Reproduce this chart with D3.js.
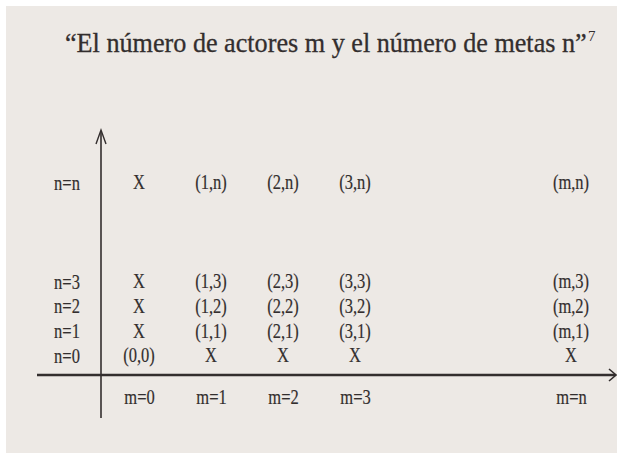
<!DOCTYPE html>
<html><head><meta charset="utf-8">
<script src="https://cdn.jsdelivr.net/npm/d3@7"></script>
<style>body{margin:0;background:#fff;overflow:hidden}</style></head>
<body><svg id="c" width="617" height="453"></svg>
<script>
const titleText = "\u201CEl número de actores m y el número de metas n\u201D";
const titleNote = "7";
const columnLabels = ["m=0", "m=1", "m=2", "m=3", "m=n"];
const columnSteps = [0, 1, 2, 3, 6];
const rowLabels = ["n=0", "n=1", "n=2", "n=3", "n=n"];
const rowSteps = [0, 1, 2, 3, 7];
const row0 = ["(0,0)", "X", "X", "X", "X"];
const row1 = ["X", "(1,1)", "(2,1)", "(3,1)", "(m,1)"];
const row2 = ["X", "(1,2)", "(2,2)", "(3,2)", "(m,2)"];
const row3 = ["X", "(1,3)", "(2,3)", "(3,3)", "(m,3)"];
const rowN = ["X", "(1,n)", "(2,n)", "(3,n)", "(m,n)"];
const cellRows = [row0, row1, row2, row3, rowN];

const svg = d3.select("#c");
const ink = "#332e2e";
const font = "'Liberation Serif', 'Times New Roman', serif";
const fs = 22, sx = 0.75;

svg.append("rect").attr("x", 6).attr("y", 6).attr("width", 611).attr("height", 447).attr("fill", "#ede9e5");

// title
const tg = svg.append("g");
const t = tg.append("text").attr("font-family", font).attr("font-size", 27).attr("fill", ink)
  .attr("stroke", ink).attr("stroke-width", 0.3).text(titleText);
const w = t.node().getComputedTextLength();
const k = 522 / w;
t.attr("transform", `translate(65,52) scale(${k},1)`);
tg.append("text").attr("font-family", font).attr("font-size", 15).attr("fill", ink)
  .attr("x", 588).attr("y", 41).text(titleNote);

const x = d3.scaleLinear().domain([0, 6]).range([139, 571]);
const y = d3.scaleLinear().domain([0, 7]).range([355, 182]);
const axisX = 101, axisY = 375;

// axes lines
svg.append("line").attr("x1", axisX).attr("x2", axisX).attr("y1", 418).attr("y2", 131)
  .attr("stroke", ink).attr("stroke-width", 1.6);
svg.append("path").attr("d", `M${axisX-5},${144}L${axisX},${130}L${axisX+5},${144}`)
  .attr("fill", "none").attr("stroke", ink).attr("stroke-width", 1.4);
svg.append("line").attr("x1", 37).attr("x2", 615).attr("y1", axisY).attr("y2", axisY)
  .attr("stroke", ink).attr("stroke-width", 2.6);
svg.append("path").attr("d", `M609,${axisY-6}L616,${axisY}L609,${axisY+6}`)
  .attr("fill", "none").attr("stroke", ink).attr("stroke-width", 1.6);

function styleText(sel) {
  sel.attr("font-family", font).attr("font-size", fs).attr("fill", ink)
    .attr("stroke", ink).attr("stroke-width", 0.2)
    .attr("text-anchor", "middle").attr("dominant-baseline", "central");
}

// column axis labels
const ax = svg.append("g").attr("transform", `translate(0,${axisY})`)
  .call(d3.axisBottom(x).tickValues(columnSteps).tickFormat((d, i) => columnLabels[i]).tickSize(0));
ax.select(".domain").remove();
ax.selectAll("text").attr("y", 0).attr("dy", null).call(styleText)
  .attr("transform", `translate(0,22) scale(${sx},1)`);

// row axis labels
const ay = svg.append("g").attr("transform", `translate(${axisX},0)`)
  .call(d3.axisLeft(y).tickValues(rowSteps).tickFormat((d, i) => rowLabels[i]).tickSize(0));
ay.select(".domain").remove();
ay.selectAll("text").attr("x", 0).attr("dy", null).call(styleText)
  .attr("transform", `translate(-34,0) scale(${sx},1)`);

// cells
const cells = [];
cellRows.forEach((r, ri) => r.forEach((lab, ci) => cells.push({ lab, r: rowSteps[ri], c: columnSteps[ci] })));
svg.append("g").selectAll("text").data(cells).join("text")
  .call(styleText)
  .attr("transform", d => `translate(${x(d.c)},${y(d.r)}) scale(${sx},1)`)
  .text(d => d.lab);
</script></body></html>
